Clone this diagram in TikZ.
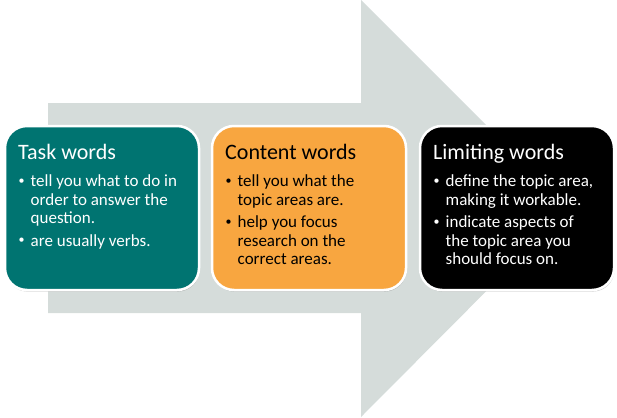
\documentclass[tikz,border=0pt]{standalone}
\usepackage{fontspec}
\setmainfont{Carlito}
\usetikzlibrary{shadows}

\definecolor{arrowgrey}{HTML}{D5DCDA}
\definecolor{taskteal}{HTML}{007471}
\definecolor{contentorange}{HTML}{F8A640}

\begin{document}
\begin{tikzpicture}[x=1pt, y=-1pt,
        wordbox/.style={draw=white, line width=2.5pt, rounded corners=22pt,
            minimum width=194pt, minimum height=164pt,
            drop shadow={shadow xshift=0.6pt, shadow yshift=-1.6pt, opacity=0.35, fill=black!60}},
        heading/.style={anchor=base west, inner sep=0pt, font={\fontsize{22}{25}\selectfont}},
        dot/.style={anchor=center, inner sep=0pt, font={\fontsize{12}{14}\selectfont}},
        point/.style={anchor=base west, inner sep=0pt, align=left, font={\fontsize{17}{18.5}\selectfont}}]
        \useasboundingbox (0, 0) rectangle (617, 417);

        % big arrow behind the boxes
        \fill[arrowgrey] (48, 103) -- (361, 103) -- (361, 0) -- (569, 208)
            -- (361, 417) -- (361, 313) -- (48, 313) -- cycle;

        \node[wordbox, fill=taskteal] (task) at (102, 208) {};
        \node[wordbox, fill=contentorange] (content) at (309, 208) {};
        \node[wordbox, fill=black] (limiting) at (517, 208) {};

        % point nodes sit on the baseline of their last line
        \node[heading, white] (tasktitle) at (18, 159) {Task words};
        \node[dot, white] (taskdota) at (21.7, 181.7) {\textbullet};
        \node[point, white] (taska) at (30.5, 223.5) {tell you what to do in\\order to answer the\\question.};
        \node[dot, white] (taskdotb) at (21.7, 240.8) {\textbullet};
        \node[point, white] (taskb) at (30.5, 246) {are usually verbs.};

        \node[heading, black] (contenttitle) at (225, 159) {Content words};
        \node[dot, black] (contentdota) at (228.7, 181.7) {\textbullet};
        \node[point, black] (contenta) at (237.5, 205) {tell you what the\\topic areas are.};
        \node[dot, black] (contentdotb) at (228.7, 222.3) {\textbullet};
        \node[point, black] (contentb) at (237.5, 264.5) {help you focus\\research on the\\correct areas.};

        \node[heading, white] (limitingtitle) at (433, 159) {Limiting words};
        \node[dot, white] (limitingdota) at (436.7, 181.7) {\textbullet};
        \node[point, white] (limitinga) at (445.5, 205) {define the topic area,\\making it workable.};
        \node[dot, white] (limitingdotb) at (436.7, 222.3) {\textbullet};
        \node[point, white] (limitingb) at (445.5, 264.5) {indicate aspects of\\the topic area you\\should focus on.};
    \end{tikzpicture}
\end{document}
